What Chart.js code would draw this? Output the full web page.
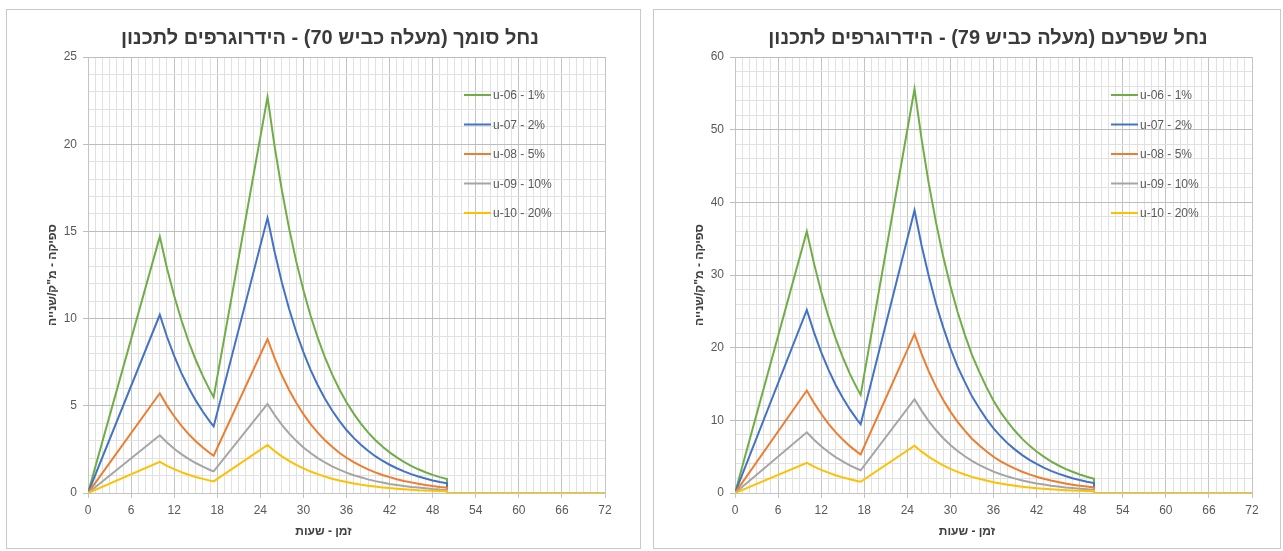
<!DOCTYPE html>
<html><head><meta charset="utf-8">
<script src="https://cdn.jsdelivr.net/npm/chart.js@4.4.0/dist/chart.umd.min.js"></script>
<style>
html,body{margin:0;padding:0;background:#fff;width:1283px;height:551px;overflow:hidden;}
.box{position:absolute;border:1px solid #c9c9c9;box-sizing:border-box;background:#fff;}
#b1{left:6px;top:9px;width:635px;height:540px;}
#b2{left:653px;top:9px;width:628px;height:540px;}
canvas{display:block;}
</style></head><body>
<div class="box" id="b1"><canvas id="c1" width="633" height="538"></canvas></div>
<div class="box" id="b2"><canvas id="c2" width="626" height="538"></canvas></div>
<script>
// ---- DATA ----
const hours = [0,10,11,12,13,14,15,16,17,17.5,25,26,27,28,29,30,31,32,33,34,35,36,37,38,39,40,41,42,43,44,45,46,47,48,49,50,50,72];
const seriesLabels = ['u-06 - 1%','u-07 - 2%','u-08 - 5%','u-09 - 10%','u-10 - 20%'];
const xTickLabels = [0,6,12,18,24,30,36,42,48,54,60,66,72];
const yTickLabelsSomech = [0,5,10,15,20,25];
const yTickLabelsShfaram = [0,10,20,30,40,50,60];
const titleSomech = 'נחל סומך (מעלה כביש 70) - הידרוגרפים לתכנון';
const titleShfaram = 'נחל שפרעם (מעלה כביש 79) - הידרוגרפים לתכנון';
const xAxisTitle = 'זמן - שעות';
const yAxisTitle = 'ספיקה - מ"ק/שנייה';

const somech_u06 = [0,14.70,12.89,11.31,9.92,8.70,7.64,6.70,5.87,5.50,22.70,19.85,17.36,15.19,13.28,11.62,10.16,8.89,7.77,6.80,5.95,5.20,4.55,3.98,3.48,3.04,2.66,2.33,2.04,1.78,1.56,1.36,1.19,1.04,0.91,0.80,0,0];
const somech_u07 = [0,10.22,8.96,7.86,6.89,6.05,5.31,4.66,4.08,3.82,15.78,13.80,12.07,10.56,9.23,8.08,7.06,6.18,5.40,4.73,4.14,3.61,3.16,2.77,2.42,2.11,1.85,1.62,1.42,1.24,1.08,0.95,0.83,0.72,0.63,0.56,0,0];
const somech_u08 = [0,5.72,5.01,4.40,3.86,3.38,2.97,2.61,2.28,2.14,8.83,7.72,6.75,5.91,5.17,4.52,3.95,3.46,3.02,2.65,2.31,2.02,1.77,1.55,1.35,1.18,1.03,0.91,0.79,0.69,0.61,0.53,0.46,0.40,0.35,0.31,0,0];
const somech_u09 = [0,3.31,2.90,2.54,2.23,1.96,1.72,1.51,1.32,1.24,5.11,4.47,3.91,3.42,2.99,2.61,2.29,2.00,1.75,1.53,1.34,1.17,1.02,0.90,0.78,0.68,0.60,0.52,0.46,0.40,0.35,0.31,0.27,0.23,0.20,0.18,0,0];
const somech_u10 = [0,1.78,1.56,1.37,1.20,1.05,0.92,0.81,0.71,0.67,2.75,2.40,2.10,1.84,1.61,1.41,1.23,1.08,0.94,0.82,0.72,0.63,0.55,0.48,0.42,0.37,0.32,0.28,0.25,0.22,0.19,0.16,0.14,0.13,0.11,0.10,0,0];

const shfaram_u06 = [0,36.0,31.6,27.7,24.3,21.3,18.7,16.4,14.4,13.5,55.6,48.6,42.5,37.2,32.5,28.5,24.9,21.8,19.0,16.7,14.6,12.7,11.1,9.75,8.53,7.45,6.52,5.71,5.00,4.36,3.82,3.33,2.92,2.55,2.23,1.96,0,0];
const shfaram_u07 = [0,25.2,22.1,19.4,17.0,14.9,13.1,11.5,10.1,9.45,38.9,34.0,29.8,26.0,22.8,19.9,17.4,15.3,13.3,11.7,10.2,8.9,7.8,6.8,5.97,5.22,4.56,4.00,3.50,3.05,2.67,2.33,2.04,1.79,1.56,1.37,0,0];
const shfaram_u08 = [0,14.1,12.4,10.9,9.55,8.37,7.35,6.45,5.66,5.31,21.9,19.1,16.7,14.6,12.8,11.2,9.79,8.57,7.47,6.56,5.74,4.99,4.36,3.83,3.35,2.93,2.56,2.24,1.97,1.71,1.50,1.31,1.15,1.00,0.88,0.77,0,0];
const shfaram_u09 = [0,8.35,7.33,6.43,5.64,4.94,4.34,3.80,3.34,3.13,12.9,11.3,9.86,8.63,7.54,6.61,5.78,5.06,4.41,3.87,3.39,2.95,2.58,2.26,1.98,1.73,1.51,1.32,1.16,1.01,0.89,0.77,0.68,0.59,0.52,0.45,0,0];
const shfaram_u10 = [0,4.15,3.64,3.19,2.80,2.45,2.15,1.89,1.66,1.55,6.50,5.69,4.97,4.35,3.80,3.33,2.91,2.55,2.22,1.95,1.71,1.49,1.30,1.14,1.00,0.87,0.76,0.67,0.58,0.51,0.45,0.39,0.34,0.30,0.26,0.23,0,0];

const seriesColors = ['#70AD47','#4472C4','#ED7D31','#A5A5A5','#FFC000'];

// ---- RENDER ----
const FONT = '"Liberation Sans", Arial, sans-serif';
const overlayPlugin = {
  id: 'overlay',
  afterDraw(chart, args, o) {
    const ctx = chart.ctx;
    ctx.save();
    ctx.font = 'bold 20px ' + FONT;
    ctx.fillStyle = '#3a3a3a';
    ctx.textAlign = 'center'; ctx.textBaseline = 'middle';
    ctx.fillText(o.title, o.titleX, o.titleY);
    ctx.font = 'bold 12px ' + FONT;
    ctx.fillStyle = '#404040';
    ctx.fillText(o.xTitle, chart.width / 2, o.xTitleY);
    ctx.font = '12px ' + FONT;
    ctx.textAlign = 'left';
    chart.data.datasets.forEach((ds, i) => {
      const y = o.legendY + i * o.legendGap;
      ctx.strokeStyle = ds.borderColor; ctx.lineWidth = 2;
      ctx.beginPath(); ctx.moveTo(o.legendX, y); ctx.lineTo(o.legendX + 27, y); ctx.stroke();
      ctx.fillStyle = '#595959';
      ctx.fillText(ds.label, o.legendX + 29, y + 1);
    });
    ctx.restore();
  }
};

function makeChart(id, series, yMax, yStep, yLabels, title, titleX, rightPad) {
  const datasets = series.map((vals, i) => ({
    label: seriesLabels[i],
    data: hours.map((h, j) => ({x: h, y: vals[j]})),
    borderColor: seriesColors[i],
    backgroundColor: seriesColors[i],
    borderWidth: 2,
    pointRadius: 0,
    tension: 0,
    fill: false,
    order: series.length - i
  }));
  const majorX = v => xTickLabels.includes(v);
  const majorY = v => yLabels.includes(v);
  return new Chart(document.getElementById(id), {
    type: 'line',
    data: {datasets},
    plugins: [overlayPlugin],
    options: {
      responsive: false,
      animation: false,
      events: [],
      layout: {padding: {top: 47, right: rightPad, left: 0, bottom: 0}},
      plugins: {
        legend: {display: false},
        title: {display: false},
        tooltip: {enabled: false},
        overlay: {title, titleX, titleY: 28, xTitle: xAxisTitle, xTitleY: 522,
                  legendX: 457, legendY: 85, legendGap: 29.5}
      },
      scales: {
        x: {
          type: 'linear', min: 0, max: 72,
          afterFit: s => { s.height = 55; },
          ticks: {
            stepSize: 1, autoSkip: false, maxRotation: 0, padding: 5,
            color: '#595959', font: {family: FONT, size: 12},
            callback: v => majorX(v) ? String(v) : ''
          },
          grid: {
            color: c => (c.tick && majorX(c.tick.value)) ? '#c4c4c4' : '#e1e1e1',
            tickColor: c => (c.tick && majorX(c.tick.value)) ? '#c4c4c4' : 'rgba(0,0,0,0)',
            tickLength: 5, lineWidth: 1
          },
          border: {color: '#c4c4c4'},
          title: {display: false}
        },
        y: {
          type: 'linear', min: 0, max: yMax,
          afterFit: s => { s.width = 81; },
          ticks: {
            stepSize: yStep, autoSkip: false, padding: 6,
            color: '#595959', font: {family: FONT, size: 12},
            callback: v => majorY(v) ? String(v) : ''
          },
          grid: {
            color: c => (c.tick && majorY(c.tick.value)) ? '#bdbdbd' : '#e1e1e1',
            tickColor: c => (c.tick && majorY(c.tick.value)) ? '#bdbdbd' : 'rgba(0,0,0,0)',
            tickLength: 5, lineWidth: 1
          },
          border: {color: '#c4c4c4'},
          title: {display: true, text: yAxisTitle, color: '#404040',
                  font: {family: FONT, size: 12, weight: 'bold'}, padding: {top: 38, bottom: 0}}
        }
      }
    }
  });
}

makeChart('c1', [somech_u06, somech_u07, somech_u08, somech_u09, somech_u10], 25, 1, yTickLabelsSomech, titleSomech, 323, 35);
makeChart('c2', [shfaram_u06, shfaram_u07, shfaram_u08, shfaram_u09, shfaram_u10], 60, 2, yTickLabelsShfaram, titleShfaram, 334, 28);
</script>
</body></html>
